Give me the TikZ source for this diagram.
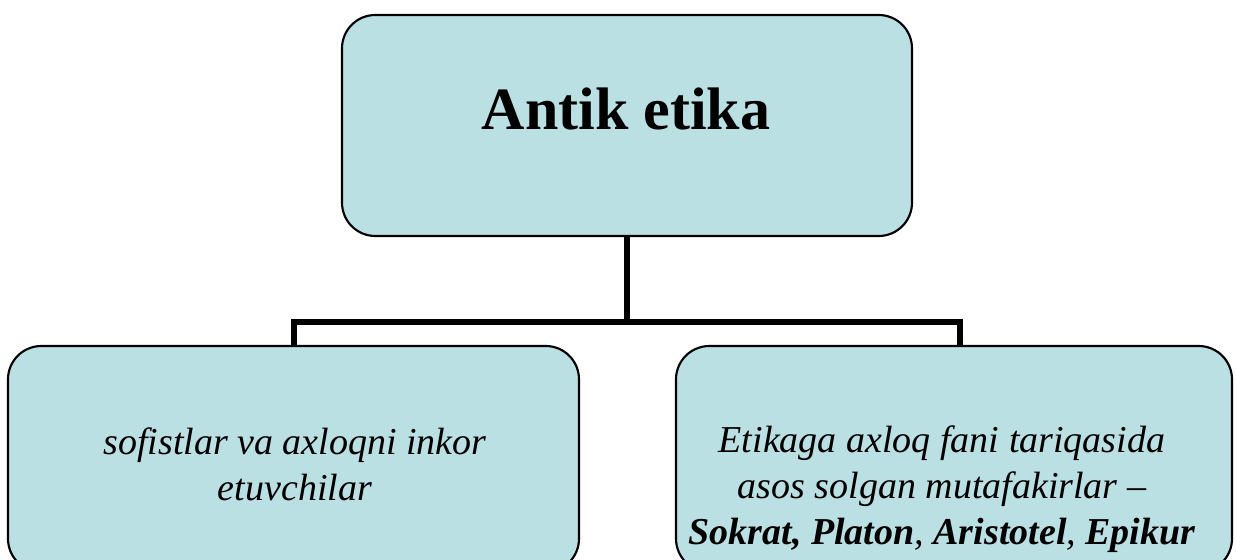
\documentclass[tikz,border=0pt]{standalone}
\usepackage{fontspec}
\setmainfont{Liberation Serif}
\usetikzlibrary{calc}
\definecolor{boxfill}{RGB}{187,224,227}
\tikzset{
  box/.style={draw=black, line width=1.6pt, fill=boxfill, rounded corners=25pt, inner sep=0pt},
  tree/.style={draw=black, line width=4.5pt},
  body/.style={font=\fontsize{28.5}{34.5}\selectfont\itshape, align=center, inner sep=0pt},
}
\begin{document}
\begin{tikzpicture}[x=0.75pt, y=-0.75pt]
\useasboundingbox (0,0) rectangle (1236,560);
\clip (0,0) rectangle (1236,560);
\fill[white] (0,0) rectangle (1236,560);
% boxes
\node[box, minimum width=427.5pt, minimum height=165.75pt] (top) at (627,125.5) {};
\node[box, minimum width=428.25pt, minimum height=169.5pt] (left) at (293.5,459) {};
\node[box, minimum width=417pt, minimum height=169.5pt] (right) at (954,459) {};
% texts
\node[font=\fontsize{45}{50}\selectfont\bfseries, inner sep=0pt, anchor=base] (toptext) at (626,130) {Antik etika};
\node[body, anchor=base] (lefttext) at (295,500) {sofistlar va axloqni inkor\\etuvchilar};
\node[body, anchor=base] (righttext) at (942,544) {Etikaga axloq fani tariqasida\\asos solgan mutafakirlar –\\\textbf{Sokrat, Platon}, \textbf{Aristotel}, \textbf{Epikur}};
% connectors
\coordinate (busmid) at (627,322);
\coordinate (busleft) at (294,322);
\coordinate (busright) at (960,322);
\draw[tree] (top.south) -- (busmid);
\draw[tree, line cap=rect] (busleft) -- (busright);
\draw[tree] (busleft) -- (busleft |- left.north);
\draw[tree] (busright) -- (busright |- right.north);
\end{tikzpicture}
\end{document}
